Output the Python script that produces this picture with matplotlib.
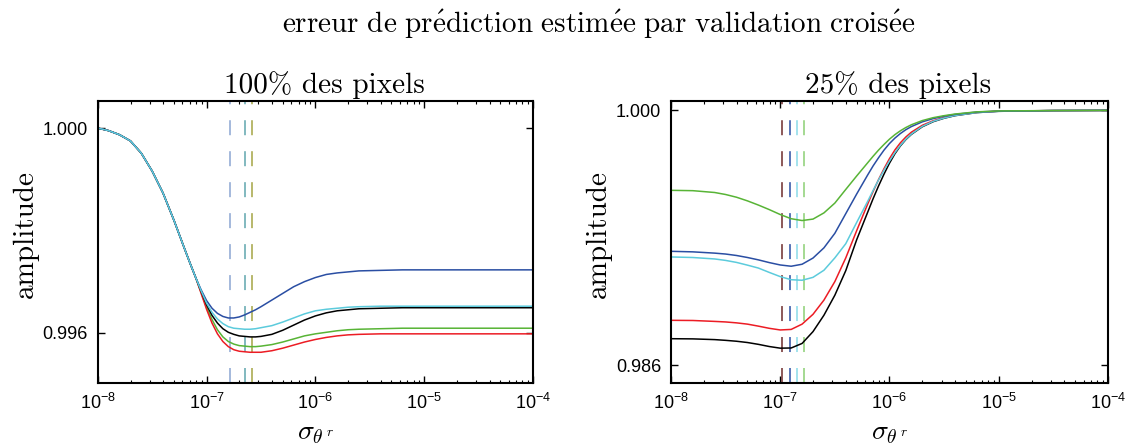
import numpy as np
import matplotlib
matplotlib.use("Agg")
import matplotlib.pyplot as plt

plt.rcParams['mathtext.fontset'] = 'custom'
plt.rcParams['mathtext.rm'] = 'Liberation Sans'
plt.rcParams['mathtext.it'] = 'Liberation Sans:italic'
plt.rcParams['font.family'] = 'Liberation Sans'

# ---- 100% des pixels : log10(sigma) positions
lgA = [-8.0, -7.9, -7.8, -7.7, -7.6, -7.5, -7.4, -7.3, -7.2, -7.15,
       -7.1, -7.05, -7.0, -6.95, -6.9, -6.85, -6.8, -6.75, -6.7, -6.65,
       -6.6, -6.55, -6.5, -6.4, -6.3, -6.2, -6.1, -6.0, -5.9, -5.8,
       -5.7, -5.6, -5.4, -5.2, -5.0, -4.5, -4.0]
headA = [1.00000, 0.99995, 0.99987, 0.99975, 0.99951, 0.99916, 0.99873, 0.99820, 0.99763, 0.99735, 0.99708]
a_blue = headA + [0.99684, 0.99663, 0.99648, 0.99638, 0.99632, 0.99629, 0.99629, 0.99631, 0.99635,
                  0.99640, 0.99645, 0.99651, 0.99664, 0.99677, 0.99690, 0.99700, 0.99708, 0.99714, 0.99717,
                  0.99719, 0.99721, 0.99722, 0.99723, 0.99723, 0.99723, 0.99723]
a_cyan = headA + [0.99682, 0.99658, 0.99640, 0.99627, 0.99618, 0.99612, 0.99609, 0.99608, 0.99607,
                  0.99607, 0.99608, 0.99610, 0.99614, 0.99621, 0.99629, 0.99637, 0.99643, 0.99646, 0.99648,
                  0.99650, 0.99651, 0.99652, 0.99652, 0.99652, 0.99652, 0.99652]
a_black = headA + [0.99681, 0.99655, 0.99634, 0.99619, 0.99608, 0.99601, 0.99597, 0.99594, 0.99593,
                   0.99592, 0.99592, 0.99593, 0.99597, 0.99605, 0.99615, 0.99625, 0.99633, 0.99639, 0.99643,
                   0.99645, 0.99647, 0.99648, 0.99649, 0.99649, 0.99649, 0.99649]
a_green = headA + [0.99679, 0.99650, 0.99626, 0.99606, 0.99592, 0.99583, 0.99578, 0.99575, 0.99574,
                   0.99573, 0.99573, 0.99574, 0.99577, 0.99582, 0.99588, 0.99594, 0.99598, 0.99601, 0.99604,
                   0.99606, 0.99607, 0.99608, 0.99609, 0.99609, 0.99609, 0.99609]
a_red = headA + [0.99677, 0.99646, 0.99619, 0.99598, 0.99583, 0.99573, 0.99567, 0.99564, 0.99563,
                 0.99562, 0.99562, 0.99562, 0.99565, 0.99570, 0.99576, 0.99582, 0.99587, 0.99591, 0.99594,
                 0.99596, 0.99597, 0.99598, 0.99598, 0.99598, 0.99598, 0.99598]
a_min = [1.65e-7, 2.26e-7, 2.61e-7]

# ---- 25% des pixels
lgB = [-8.0, -7.8, -7.6, -7.5, -7.4, -7.3, -7.2, -7.1, -7.0, -6.9,
       -6.8, -6.7, -6.6, -6.5, -6.4, -6.3, -6.2, -6.15, -6.1, -6.05,
       -6.0, -5.95, -5.9, -5.85, -5.8, -5.7, -5.6, -5.5, -5.4, -5.2,
       -5.0, -4.5, -4.0]
b_green = [0.99561, 0.99559, 0.99549, 0.99538, 0.99523, 0.99503, 0.99480, 0.99455, 0.99428, 0.99405,
           0.99395, 0.99403, 0.99437, 0.99491, 0.99566, 0.99640, 0.99712, 0.99748, 0.99782, 0.99813,
           0.99842, 0.99867, 0.99888, 0.99906, 0.99921, 0.99944, 0.99960, 0.99971, 0.99980, 0.99992,
           0.99997, 0.99999, 1.00000]
b_blue = [0.99226, 0.99223, 0.99216, 0.99211, 0.99203, 0.99192, 0.99179, 0.99164, 0.99151, 0.99144,
          0.99155, 0.99189, 0.99245, 0.99325, 0.99433, 0.99541, 0.99645, 0.99695, 0.99740, 0.99782,
          0.99818, 0.99848, 0.99873, 0.99894, 0.99911, 0.99937, 0.99955, 0.99968, 0.99978, 0.99991,
          0.99996, 0.99999, 1.00000]
b_cyan = [0.99195, 0.99192, 0.99184, 0.99176, 0.99165, 0.99150, 0.99134, 0.99110, 0.99087, 0.99070,
          0.99067, 0.99083, 0.99122, 0.99190, 0.99268, 0.99385, 0.99500, 0.99560, 0.99618, 0.99672,
          0.99722, 0.99768, 0.99808, 0.99842, 0.99870, 0.99912, 0.99940, 0.99958, 0.99972, 0.99988,
          0.99995, 0.99999, 1.00000]
b_red = [0.98847, 0.98846, 0.98841, 0.98838, 0.98833, 0.98826, 0.98815, 0.98803, 0.98794, 0.98797,
         0.98826, 0.98880, 0.98958, 0.99060, 0.99190, 0.99340, 0.99485, 0.99555, 0.99620, 0.99680,
         0.99735, 0.99783, 0.99822, 0.99854, 0.99880, 0.99918, 0.99943, 0.99961, 0.99974, 0.99989,
         0.99996, 0.99999, 1.00000]
b_black = [0.98746, 0.98745, 0.98741, 0.98737, 0.98732, 0.98725, 0.98715, 0.98703, 0.98694, 0.98695,
           0.98720, 0.98785, 0.98875, 0.98985, 0.99120, 0.99290, 0.99440, 0.99515, 0.99585, 0.99650,
           0.99710, 0.99762, 0.99805, 0.99840, 0.99868, 0.99910, 0.99938, 0.99957, 0.99971, 0.99988,
           0.99995, 0.99999, 1.00000]
b_min = [1.03e-7, 1.22e-7, 1.42e-7, 1.65e-7]

sigA = 10.0 ** np.array(lgA)
sigB = 10.0 ** np.array(lgB)

c_blue, c_cyan, c_black, c_green, c_red = '#2a4ea3', '#5ccbdc', '#000000', '#58b436', '#ec1c24'
a_dash_cols = ['#8ba5d2', '#5fa6ae', '#a4a444']
b_dash_cols = ['#6e2b2b', '#2a4ea3', '#8adbe8', '#8ccf74']

fig = plt.figure(figsize=(11.3, 4.48), dpi=100)
ax1 = fig.add_axes([0.0865, 0.144, 0.3852, 0.6295])
ax2 = fig.add_axes([0.5938, 0.144, 0.3867, 0.6295])

lw = 1.1
dash = (0, (10.8 / lw, 11.5 / lw))

for x, c in zip(a_min, a_dash_cols):
    ax1.axvline(x, color=c, lw=lw, ls=dash)
for x, c in zip(b_min, b_dash_cols):
    ax2.axvline(x, color=c, lw=lw, ls=dash)

for y, c in [(a_green, c_green), (a_red, c_red), (a_black, c_black), (a_blue, c_blue), (a_cyan, c_cyan)]:
    ax1.plot(sigA, y, color=c, lw=lw)
for y, c in [(b_black, c_black), (b_red, c_red), (b_cyan, c_cyan), (b_blue, c_blue), (b_green, c_green)]:
    ax2.plot(sigB, y, color=c, lw=lw)

ax1.set_ylim(0.99501, 1.00052)
ax1.set_yticks([0.996, 1.000])
ax1.set_yticklabels(['0.996', '1.000'])
ax2.set_ylim(0.98500, 1.00049)
ax2.set_yticks([0.986, 1.000])
ax2.set_yticklabels(['0.986', '1.000'])

for ax, sub in [(ax1, '100% des pixels'), (ax2, '25% des pixels')]:
    ax.set_xscale('log')
    ax.set_xlim(1e-8, 1e-4)
    ax.set_xticks([1e-8, 1e-7, 1e-6, 1e-5, 1e-4])
    ax.tick_params(which='both', direction='in', top=True, right=True, labelsize=13)
    ax.tick_params(which='major', length=5, width=1.0, pad=7)
    ax.tick_params(which='minor', length=2.5, width=0.8)
    for s in ax.spines.values():
        s.set_linewidth(1.5)
    ax.set_title(sub, fontfamily='cmr10', fontsize=21, pad=6, x=0.52)
    ax.set_ylabel('amplitude', fontfamily='cmr10', fontsize=21, labelpad=3)
    ax.yaxis.label.set_y(0.53)
    ax.set_xlabel(r'$\sigma_{\theta^{\,r}}$', fontsize=20, math_fontfamily='cm', labelpad=5)

fig.text(0.53, 0.926,
         r'$\mathrm{erreur\ de\ pr\acute{e}diction\ estim\acute{e}e\ par\ validation\ crois\acute{e}e}$',
         ha='center', va='baseline', fontsize=21, math_fontfamily='cm')

fig.savefig('out.png', dpi=100)
